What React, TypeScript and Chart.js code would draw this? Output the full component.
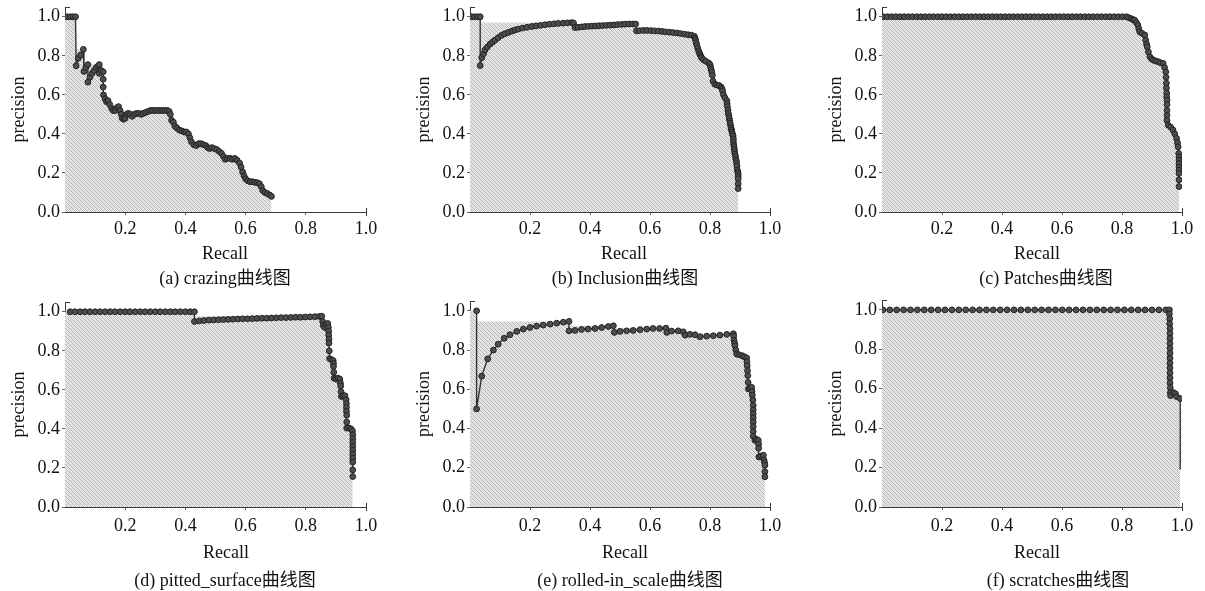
import React, { useEffect, useRef } from "react";
import { Chart, registerables } from "chart.js";

Chart.register(...registerables);

// ---------- axis / label data ----------
const xTickValues = [0.2, 0.4, 0.6, 0.8, 1.0];
const yTickValues = [0, 0.2, 0.4, 0.6, 0.8, 1.0];
const xAxisTitle = "Recall";
const yAxisTitle = "precision";
const xMin = 0;
const xMax = 1;
const yMin = 0;
const yMax = 1.05;

// ---------- (a) crazing ----------
const crazingRecall = [
  0.006, 0.017, 0.026, 0.035, 0.037, 0.044, 0.052, 0.061, 0.063, 0.069, 0.076, 0.076, 0.083, 0.09, 0.097,
  0.104, 0.111, 0.114, 0.114, 0.12, 0.127, 0.127, 0.127, 0.128, 0.133, 0.138, 0.143, 0.149, 0.155, 0.16,
  0.167, 0.173, 0.178, 0.183, 0.187, 0.19, 0.195, 0.2, 0.205, 0.21, 0.217, 0.223, 0.23, 0.238, 0.245,
  0.253, 0.26, 0.268, 0.276, 0.284, 0.292, 0.3, 0.308, 0.316, 0.324, 0.332, 0.34, 0.346, 0.35, 0.354,
  0.36, 0.365, 0.372, 0.38, 0.388, 0.396, 0.403, 0.41, 0.415, 0.42, 0.428, 0.436, 0.444, 0.452, 0.46,
  0.468, 0.474, 0.48, 0.488, 0.496, 0.504, 0.512, 0.52, 0.526, 0.532, 0.54, 0.548, 0.556, 0.564, 0.572,
  0.58, 0.585, 0.59, 0.595, 0.6, 0.607, 0.615, 0.623, 0.631, 0.639, 0.646, 0.652, 0.657, 0.664, 0.672,
  0.68, 0.686,
];
const crazingPrecision = [
  1.0, 1.0, 1.0, 1.0, 0.749, 0.787, 0.804, 0.833, 0.72, 0.74, 0.755, 0.665, 0.69, 0.71, 0.725,
  0.74, 0.75, 0.755, 0.71, 0.725, 0.718, 0.68, 0.64, 0.6, 0.58, 0.565, 0.57, 0.55, 0.53, 0.52,
  0.52, 0.535, 0.54, 0.52, 0.5, 0.48, 0.475, 0.48, 0.5, 0.505, 0.5, 0.49, 0.5, 0.505, 0.505,
  0.5, 0.505, 0.51, 0.515, 0.52, 0.52, 0.52, 0.52, 0.52, 0.52, 0.52, 0.52, 0.515, 0.5, 0.47,
  0.46, 0.44, 0.43, 0.42, 0.415, 0.41, 0.41, 0.4, 0.38, 0.36, 0.345, 0.34, 0.35, 0.35, 0.345,
  0.34, 0.33, 0.325, 0.33, 0.325, 0.32, 0.31, 0.3, 0.285, 0.27, 0.275, 0.275, 0.27, 0.275, 0.265,
  0.25, 0.23, 0.205, 0.185, 0.17, 0.16, 0.155, 0.155, 0.152, 0.15, 0.145, 0.13, 0.11, 0.1, 0.095,
  0.087, 0.08,
];

// ---------- (b) Inclusion ----------
const inclusionRecall = [
  0.005, 0.015, 0.025, 0.034, 0.034, 0.039, 0.045, 0.05, 0.058, 0.067, 0.075, 0.083, 0.094, 0.105, 0.116,
  0.128, 0.14, 0.15, 0.161, 0.175, 0.19, 0.206, 0.22, 0.235, 0.25, 0.265, 0.28, 0.294, 0.31, 0.325,
  0.339, 0.345, 0.35, 0.36, 0.372, 0.383, 0.395, 0.407, 0.418, 0.43, 0.442, 0.455, 0.467, 0.48, 0.492,
  0.505, 0.517, 0.53, 0.542, 0.552, 0.555, 0.565, 0.578, 0.59, 0.603, 0.615, 0.628, 0.64, 0.652, 0.665,
  0.677, 0.69, 0.702, 0.715, 0.727, 0.738, 0.748, 0.75, 0.752, 0.754, 0.756, 0.759, 0.762, 0.765, 0.767,
  0.77, 0.772, 0.778, 0.786, 0.795, 0.8, 0.802, 0.804, 0.806, 0.808, 0.81, 0.816, 0.823, 0.83, 0.837,
  0.84, 0.842, 0.845, 0.85, 0.856, 0.857, 0.858, 0.86, 0.861, 0.863, 0.864, 0.866, 0.867, 0.869, 0.87,
  0.872, 0.873, 0.875, 0.877, 0.878, 0.878, 0.879, 0.88, 0.881, 0.882, 0.883, 0.885, 0.886, 0.888, 0.889,
  0.89, 0.891, 0.893, 0.894, 0.894, 0.894, 0.894, 0.894,
];
const inclusionPrecision = [
  1.0, 1.0, 1.0, 1.0, 0.75, 0.79, 0.81, 0.83, 0.845, 0.86, 0.87, 0.88, 0.893, 0.905, 0.913,
  0.92, 0.927, 0.932, 0.937, 0.942, 0.946, 0.95, 0.953, 0.956, 0.959, 0.962, 0.964, 0.966, 0.967, 0.969,
  0.97, 0.968, 0.945, 0.946, 0.948, 0.95, 0.951, 0.952, 0.953, 0.954, 0.955, 0.956, 0.957, 0.958, 0.96,
  0.961, 0.962, 0.963, 0.963, 0.963, 0.928, 0.929, 0.93, 0.93, 0.929, 0.928, 0.927, 0.925, 0.923, 0.921,
  0.919, 0.917, 0.914, 0.911, 0.908, 0.906, 0.9, 0.89, 0.88, 0.867, 0.855, 0.84, 0.825, 0.815, 0.805,
  0.797, 0.79, 0.78, 0.772, 0.764, 0.755, 0.742, 0.73, 0.715, 0.7, 0.67, 0.655, 0.65, 0.648, 0.64,
  0.63, 0.62, 0.6, 0.585, 0.57, 0.555, 0.54, 0.522, 0.505, 0.492, 0.48, 0.467, 0.455, 0.442, 0.43,
  0.42, 0.41, 0.4, 0.39, 0.375, 0.36, 0.345, 0.335, 0.322, 0.31, 0.297, 0.285, 0.27, 0.26, 0.247,
  0.235, 0.215, 0.205, 0.195, 0.182, 0.17, 0.145, 0.12,
];

// ---------- (c) Patches ----------
const patchesRecall = [
  0.004, 0.018, 0.032, 0.046, 0.06, 0.074, 0.088, 0.102, 0.116, 0.13, 0.144, 0.158, 0.172, 0.186, 0.2,
  0.214, 0.228, 0.242, 0.256, 0.27, 0.284, 0.298, 0.312, 0.326, 0.34, 0.354, 0.368, 0.382, 0.396, 0.41,
  0.424, 0.438, 0.452, 0.466, 0.48, 0.494, 0.508, 0.522, 0.536, 0.55, 0.564, 0.578, 0.592, 0.606, 0.62,
  0.634, 0.648, 0.662, 0.676, 0.69, 0.704, 0.718, 0.732, 0.746, 0.76, 0.774, 0.788, 0.802, 0.815, 0.823,
  0.831, 0.837, 0.842, 0.848, 0.853, 0.856, 0.859, 0.867, 0.876, 0.879, 0.882, 0.884, 0.888, 0.893, 0.898,
  0.904, 0.912, 0.92, 0.928, 0.937, 0.942, 0.946, 0.947, 0.948, 0.948, 0.949, 0.949, 0.95, 0.95, 0.95,
  0.95, 0.95, 0.954, 0.962, 0.97, 0.976, 0.982, 0.985, 0.987, 0.989, 0.99, 0.99, 0.99, 0.99, 0.99,
  0.99, 0.99, 0.99,
];
const patchesPrecision = [
  1.0, 1.0, 1.0, 1.0, 1.0, 1.0, 1.0, 1.0, 1.0, 1.0, 1.0, 1.0, 1.0, 1.0, 1.0,
  1.0, 1.0, 1.0, 1.0, 1.0, 1.0, 1.0, 1.0, 1.0, 1.0, 1.0, 1.0, 1.0, 1.0, 1.0,
  1.0, 1.0, 1.0, 1.0, 1.0, 1.0, 1.0, 1.0, 1.0, 1.0, 1.0, 1.0, 1.0, 1.0, 1.0,
  1.0, 1.0, 1.0, 1.0, 1.0, 1.0, 1.0, 1.0, 1.0, 1.0, 1.0, 1.0, 1.0, 1.0, 0.995,
  0.99, 0.985, 0.983, 0.97, 0.957, 0.94, 0.923, 0.915, 0.906, 0.88, 0.86, 0.846, 0.82, 0.795, 0.785,
  0.778, 0.774, 0.77, 0.765, 0.761, 0.74, 0.718, 0.69, 0.66, 0.635, 0.61, 0.59, 0.573, 0.55, 0.52,
  0.495, 0.47, 0.445, 0.435, 0.42, 0.4, 0.377, 0.355, 0.334, 0.3, 0.282, 0.266, 0.248, 0.23, 0.214,
  0.198, 0.165, 0.13,
];

// ---------- (d) pitted_surface ----------
const pittedRecall = [
  0.017, 0.033, 0.05, 0.066, 0.083, 0.1, 0.116, 0.133, 0.15, 0.166, 0.183, 0.2, 0.216, 0.233, 0.25,
  0.266, 0.283, 0.3, 0.316, 0.333, 0.35, 0.366, 0.383, 0.4, 0.416, 0.43, 0.43, 0.446, 0.462, 0.478,
  0.494, 0.51, 0.526, 0.542, 0.558, 0.574, 0.59, 0.606, 0.622, 0.638, 0.654, 0.67, 0.686, 0.702, 0.718,
  0.734, 0.75, 0.766, 0.782, 0.798, 0.814, 0.83, 0.845, 0.853, 0.856, 0.858, 0.862, 0.868, 0.873, 0.875,
  0.876, 0.876, 0.877, 0.877, 0.878, 0.879, 0.885, 0.891, 0.892, 0.892, 0.893, 0.894, 0.9, 0.907, 0.913,
  0.915, 0.916, 0.917, 0.918, 0.924, 0.93, 0.934, 0.935, 0.935, 0.935, 0.936, 0.936, 0.936, 0.943, 0.95,
  0.955, 0.956, 0.956, 0.956, 0.956, 0.956, 0.956, 0.956, 0.956, 0.956, 0.956,
];
const pittedPrecision = [
  1.0, 1.0, 1.0, 1.0, 1.0, 1.0, 1.0, 1.0, 1.0, 1.0, 1.0, 1.0, 1.0, 1.0, 1.0,
  1.0, 1.0, 1.0, 1.0, 1.0, 1.0, 1.0, 1.0, 1.0, 1.0, 1.0, 0.95, 0.953, 0.955, 0.957,
  0.958, 0.959, 0.96, 0.961, 0.962, 0.963, 0.964, 0.964, 0.965, 0.966, 0.967, 0.967, 0.968, 0.969, 0.97,
  0.97, 0.971, 0.972, 0.972, 0.973, 0.974, 0.975, 0.976, 0.977, 0.95, 0.93, 0.92, 0.935, 0.94, 0.92,
  0.9, 0.88, 0.86, 0.84, 0.8, 0.76, 0.755, 0.75, 0.735, 0.72, 0.69, 0.66, 0.655, 0.66, 0.655,
  0.635, 0.62, 0.59, 0.566, 0.57, 0.57, 0.55, 0.53, 0.51, 0.49, 0.47, 0.435, 0.404, 0.405, 0.4,
  0.39, 0.37, 0.35, 0.33, 0.31, 0.29, 0.27, 0.25, 0.23, 0.19, 0.156,
];

// ---------- (e) rolled-in_scale ----------
const rolledRecall = [
  0.022, 0.022, 0.039, 0.059, 0.078, 0.094, 0.114, 0.133, 0.156, 0.178, 0.2, 0.222, 0.244, 0.267, 0.289,
  0.311, 0.33, 0.33, 0.35, 0.372, 0.394, 0.417, 0.439, 0.461, 0.478, 0.481, 0.5, 0.522, 0.544, 0.567,
  0.589, 0.61, 0.632, 0.653, 0.656, 0.672, 0.694, 0.711, 0.717, 0.733, 0.75, 0.767, 0.789, 0.811, 0.833,
  0.856, 0.878, 0.879, 0.88, 0.882, 0.883, 0.886, 0.889, 0.897, 0.906, 0.914, 0.922, 0.923, 0.924, 0.925,
  0.926, 0.927, 0.928, 0.934, 0.939, 0.94, 0.941, 0.943, 0.944, 0.944, 0.944, 0.944, 0.944, 0.944, 0.944,
  0.944, 0.95, 0.955, 0.961, 0.962, 0.962, 0.963, 0.97, 0.978, 0.98, 0.982, 0.983, 0.983, 0.983,
];
const rolledPrecision = [
  1.0, 0.5, 0.667, 0.755, 0.8, 0.83, 0.86, 0.878, 0.895, 0.907, 0.915, 0.922, 0.927, 0.932, 0.937,
  0.942, 0.946, 0.898, 0.9, 0.905, 0.907, 0.91, 0.915, 0.92, 0.924, 0.89, 0.895, 0.898, 0.9, 0.904,
  0.907, 0.91, 0.91, 0.912, 0.89, 0.897, 0.898, 0.893, 0.876, 0.88, 0.878, 0.868, 0.871, 0.873, 0.876,
  0.88, 0.883, 0.87, 0.85, 0.835, 0.822, 0.8, 0.78, 0.776, 0.772, 0.766, 0.76, 0.74, 0.72, 0.695,
  0.67, 0.635, 0.602, 0.606, 0.61, 0.59, 0.57, 0.545, 0.518, 0.495, 0.475, 0.455, 0.433, 0.41, 0.385,
  0.36, 0.34, 0.345, 0.34, 0.32, 0.3, 0.255, 0.26, 0.264, 0.24, 0.226, 0.213, 0.18, 0.154,
];

// ---------- (f) scratches ----------
const scratchesRecall = [
  0.003, 0.026, 0.049, 0.072, 0.095, 0.118, 0.141, 0.164, 0.187, 0.21, 0.233, 0.256, 0.279, 0.302, 0.325,
  0.348, 0.371, 0.394, 0.417, 0.44, 0.463, 0.486, 0.509, 0.532, 0.555, 0.578, 0.601, 0.624, 0.647, 0.67,
  0.693, 0.716, 0.739, 0.762, 0.785, 0.808, 0.831, 0.854, 0.877, 0.9, 0.923, 0.946, 0.958, 0.958, 0.959,
  0.959, 0.96, 0.96, 0.96, 0.96, 0.96, 0.96, 0.96, 0.96, 0.96, 0.96, 0.96, 0.96, 0.961, 0.961,
  0.962, 0.972, 0.978, 0.982, 0.994, 0.994,
];
const scratchesPrecision = [
  1.0, 1.0, 1.0, 1.0, 1.0, 1.0, 1.0, 1.0, 1.0, 1.0, 1.0, 1.0, 1.0, 1.0, 1.0,
  1.0, 1.0, 1.0, 1.0, 1.0, 1.0, 1.0, 1.0, 1.0, 1.0, 1.0, 1.0, 1.0, 1.0, 1.0,
  1.0, 1.0, 1.0, 1.0, 1.0, 1.0, 1.0, 1.0, 1.0, 1.0, 1.0, 1.0, 1.0, 0.98, 0.955,
  0.93, 0.905, 0.88, 0.855, 0.83, 0.805, 0.78, 0.755, 0.73, 0.705, 0.68, 0.655, 0.63, 0.605, 0.58,
  0.565, 0.58, 0.575, 0.56, 0.55, 0.19,
];

const captions = [
  "(a) crazing曲线图",
  "(b) Inclusion曲线图",
  "(c) Patches曲线图",
  "(d) pitted_surface曲线图",
  "(e) rolled-in_scale曲线图",
  "(f) scratches曲线图",
];

// ---------- layout (page pixels) ----------
type PanelSpec = {
  recall: number[];
  precision: number[];
  caption: string;
  axisLeft: number;
  axisRight: number;
  canvasTop: number;
  canvasHeight: number;
  plotTop: number;
  plotBottom: number;
  captionX: number;
  captionY: number;
  recallX: number;
  recallY: number;
  tickPad: number;
  bareTail?: number;
};

const FONT_FAMILY = "'Liberation Serif', 'Times New Roman', 'Noto Sans CJK SC', serif";
const Y_SCALE_WIDTH = 65;

const panels: PanelSpec[] = [
  { recall: crazingRecall, precision: crazingPrecision, caption: captions[0], axisLeft: 65, axisRight: 366, canvasTop: 0, canvasHeight: 295, plotTop: 7, plotBottom: 212, captionX: 225, captionY: 278, recallX: 225, recallY: 253, tickPad: 3 },
  { recall: inclusionRecall, precision: inclusionPrecision, caption: captions[1], axisLeft: 470, axisRight: 770, canvasTop: 0, canvasHeight: 295, plotTop: 7, plotBottom: 212, captionX: 625, captionY: 278, recallX: 624, recallY: 253, tickPad: 3 },
  { recall: patchesRecall, precision: patchesPrecision, caption: captions[2], axisLeft: 882, axisRight: 1182, canvasTop: 0, canvasHeight: 295, plotTop: 7, plotBottom: 212, captionX: 1046, captionY: 278, recallX: 1037, recallY: 253, tickPad: 3 },
  { recall: pittedRecall, precision: pittedPrecision, caption: captions[3], axisLeft: 65, axisRight: 366, canvasTop: 295, canvasHeight: 296, plotTop: 302, plotBottom: 507, captionX: 225, captionY: 580, recallX: 226, recallY: 552, tickPad: 5 },
  { recall: rolledRecall, precision: rolledPrecision, caption: captions[4], axisLeft: 470, axisRight: 770, canvasTop: 295, canvasHeight: 296, plotTop: 301, plotBottom: 507, captionX: 630, captionY: 580, recallX: 625, recallY: 552, tickPad: 5 },
  { recall: scratchesRecall, precision: scratchesPrecision, caption: captions[5], axisLeft: 882, axisRight: 1182, canvasTop: 295, canvasHeight: 296, plotTop: 300, plotBottom: 507, captionX: 1058, captionY: 580, recallX: 1037, recallY: 552, tickPad: 5, bareTail: 1 },
];

function makeHatch(): CanvasPattern | string {
  const c = document.createElement("canvas");
  c.width = 4;
  c.height = 4;
  const g = c.getContext("2d");
  if (!g) return "#d6d6d6";
  g.fillStyle = "#eeeeee";
  g.fillRect(0, 0, 4, 4);
  g.fillStyle = "#b2b2b2";
  for (let i = 0; i < 4; i++) g.fillRect(i, i, 1, 1);
  g.fillStyle = "#d4d4d4";
  for (let i = 0; i < 4; i++) g.fillRect((i + 2) % 4, i, 1, 1);
  return g.createPattern(c, "repeat") || "#d6d6d6";
}

// running max from the right: interpolated precision envelope
function envelope(p: number[]): number[] {
  const out = p.slice();
  for (let i = out.length - 2; i >= 0; i--) out[i] = Math.max(out[i], out[i + 1]);
  return out;
}

const endTicks = {
  id: "endTicks",
  afterDraw(chart: any) {
    const { ctx, chartArea, scales } = chart;
    const xEnd = Math.round(scales.x.getPixelForValue(xMax)) + 0.5;
    const yEnd = Math.round(scales.y.getPixelForValue(yMax)) + 0.5;
    ctx.save();
    ctx.strokeStyle = "#3a3a3a";
    ctx.lineWidth = 1;
    ctx.beginPath();
    ctx.moveTo(xEnd, chartArea.bottom - 4);
    ctx.lineTo(xEnd, chartArea.bottom + 4);
    ctx.moveTo(chartArea.left, yEnd);
    ctx.lineTo(chartArea.left + 5, yEnd);
    ctx.stroke();
    ctx.restore();
  },
};

const textStyle: React.CSSProperties = {
  position: "absolute",
  width: 320,
  textAlign: "center",
  fontFamily: FONT_FAMILY,
  fontSize: 18,
  lineHeight: "22px",
  color: "#111",
  whiteSpace: "nowrap",
};

function Panel({ spec }: { spec: PanelSpec }) {
  const ref = useRef<HTMLCanvasElement | null>(null);
  const canvasLeft = spec.axisLeft - Y_SCALE_WIDTH;
  const canvasWidth = Math.min(1205 - canvasLeft, spec.axisRight - canvasLeft + 32);
  const padRight = canvasWidth - (spec.axisRight - canvasLeft);
  const xScaleHeight = spec.canvasHeight - (spec.plotBottom - spec.canvasTop);

  useEffect(() => {
    if (!ref.current) return;
    const env = envelope(spec.precision);
    const curve = spec.recall.map((r, i) => ({ x: r, y: spec.precision[i] }));
    const area = [{ x: xMin, y: env[0] }, ...spec.recall.map((r, i) => ({ x: r, y: env[i] }))];
    const n = curve.length;
    const bare = spec.bareTail || 0;
    const font = { family: FONT_FAMILY, size: 18 };

    const chart = new Chart(ref.current, {
      type: "line",
      data: {
        datasets: [
          {
            data: curve,
            borderColor: "#333333",
            borderWidth: 1.4,
            pointRadius: (c: any) => (c.dataIndex >= n - bare ? 0 : 2.9),
            pointBackgroundColor: "#4e4e4e",
            pointBorderColor: "#222222",
            pointBorderWidth: 1,
            fill: false,
            tension: 0,
            order: 0,
          },
          {
            data: area,
            stepped: "after",
            borderColor: "rgba(0,0,0,0)",
            borderWidth: 0,
            pointRadius: 0,
            backgroundColor: makeHatch(),
            fill: "origin",
            order: 1,
          },
        ],
      },
      options: {
        animation: false,
        responsive: false,
        maintainAspectRatio: false,
        events: [],
        layout: {
          padding: { left: 0, right: padRight, top: spec.plotTop - spec.canvasTop, bottom: 0 },
        },
        plugins: {
          legend: { display: false },
          tooltip: { enabled: false },
          title: { display: false },
        },
        scales: {
          x: {
            type: "linear",
            min: xMin,
            max: xMax,
            afterBuildTicks: (s: any) => {
              s.ticks = xTickValues.map((v) => ({ value: v }));
            },
            afterFit: (s: any) => {
              s.height = xScaleHeight;
              s.paddingLeft = 0;
              s.paddingRight = 0;
            },
            ticks: {
              callback: (v: any) => Number(v).toFixed(1),
              color: "#111",
              font,
              padding: spec.tickPad,
              maxRotation: 0,
              autoSkip: false,
            },
            grid: { display: true, drawOnChartArea: false, drawTicks: true, tickLength: 3, color: "#666" },
            border: { display: true, color: "#3a3a3a", width: 1 },
            title: { display: false, text: xAxisTitle },
          },
          y: {
            type: "linear",
            min: yMin,
            max: yMax,
            afterBuildTicks: (s: any) => {
              s.ticks = yTickValues.map((v) => ({ value: v }));
            },
            afterFit: (s: any) => {
              s.width = Y_SCALE_WIDTH;
              s.paddingTop = 0;
              s.paddingBottom = 0;
            },
            ticks: {
              callback: (v: any) => Number(v).toFixed(1),
              color: "#111",
              font,
              padding: 2,
              autoSkip: false,
            },
            grid: { display: true, drawOnChartArea: false, drawTicks: true, tickLength: 3, color: "#666" },
            border: { display: true, color: "#3a3a3a", width: 1 },
            title: {
              display: true,
              text: yAxisTitle,
              color: "#111",
              font,
              padding: { top: 8, bottom: 0 },
            },
          },
        },
      } as any,
      plugins: [endTicks],
    });
    return () => chart.destroy();
  }, [spec]);

  return (
    <>
      <canvas
        ref={ref}
        width={canvasWidth}
        height={spec.canvasHeight}
        style={{
          position: "absolute",
          left: canvasLeft,
          top: spec.canvasTop,
          width: canvasWidth,
          height: spec.canvasHeight,
        }}
      />
      <div style={{ ...textStyle, left: spec.recallX - 160, top: spec.recallY - 11 }}>{xAxisTitle}</div>
      <div style={{ ...textStyle, left: spec.captionX - 160, top: spec.captionY - 11 }}>{spec.caption}</div>
    </>
  );
}

export default function App() {
  return (
    <div
      style={{
        position: "absolute",
        left: 0,
        top: 0,
        width: 1205,
        height: 591,
        background: "#ffffff",
        overflow: "hidden",
      }}
    >
      {panels.map((p, i) => (
        <Panel key={i} spec={p} />
      ))}
    </div>
  );
}
